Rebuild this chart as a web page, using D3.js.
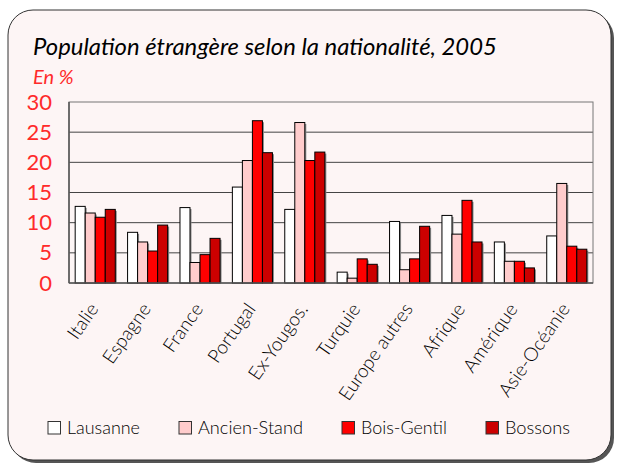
<!DOCTYPE html>
<html>
<head>
<meta charset="utf-8">
<script src="https://cdn.jsdelivr.net/npm/d3@7"></script>
<style>
  body { margin: 0; background: #fff; }
  text { font-family: Lato, "Open Sans", sans-serif; }
</style>
</head>
<body>
<div id="chart"></div>
<script>
const categories = ["Italie", "Espagne", "France", "Portugal", "Ex-Yougos.", "Turquie",
    "Europe autres", "Afrique", "Amérique", "Asie-Océanie"];
const seriesNames = ["Lausanne", "Ancien-Stand", "Bois-Gentil", "Bossons"];
const lausanne    = [12.7, 8.4, 12.5, 15.9, 12.2, 1.8, 10.2, 11.2, 6.8, 7.8];
const ancienStand = [11.6, 6.8, 3.4, 20.3, 26.6, 0.8, 2.2, 8.1, 3.6, 16.5];
const boisGentil  = [10.9, 5.3, 4.7, 26.9, 20.3, 4.0, 4.0, 13.7, 3.6, 6.1];
const bossons     = [12.2, 9.6, 7.4, 21.6, 21.7, 3.1, 9.4, 6.8, 2.5, 5.6];
const yTicks = [0, 5, 10, 15, 20, 25, 30];
const colors = ["#ffffff", "#ffcccc", "#ff0000", "#cc0000"];

const series = [lausanne, ancienStand, boisGentil, bossons];

const W = 617, H = 464;
const margin = { top: 102, right: 24, bottom: 181, left: 69 },
    width = W - margin.left - margin.right,
    height = H - margin.top - margin.bottom;

const svg = d3.select("#chart")
    .append("svg")
    .attr("width", W)
    .attr("height", H);

// card with shadow
svg.append("rect")
    .attr("x", 11).attr("y", 13)
    .attr("width", 603).attr("height", 450)
    .attr("rx", 25)
    .style("fill", "#555");
svg.append("rect")
    .attr("x", 8).attr("y", 10)
    .attr("width", 603).attr("height", 450)
    .attr("rx", 25)
    .style("fill", "#fdf5f5")
    .style("stroke", "#333")
    .style("stroke-width", 1);

// shrink/grow a text so it spans the width seen in the reference
function fitWidth(sel, size, target) {
    const w = sel.node().getComputedTextLength();
    sel.style("font-size", (size * target / w) + "px");
}

const title = svg.append("text")
    .attr("x", 33).attr("y", 55)
    .style("font-style", "italic")
    .style("font-size", "22px")
    .style("fill", "#000")
    .text("Population étrangère selon la nationalité, 2005");
fitWidth(title, 22, 464);

svg.append("text")
    .attr("x", 33).attr("y", 84)
    .style("font-style", "italic")
    .style("font-size", "20px")
    .style("fill", "#ff2a2a")
    .text("En %");

const g = svg.append("g")
    .attr("transform", `translate(${margin.left}, ${margin.top})`);

const x = d3.scaleBand()
    .domain(categories)
    .range([0, width])
    .paddingInner(0.235)
    .paddingOuter(0.118);

const xs = d3.scaleBand()
    .domain(seriesNames)
    .range([0, x.bandwidth()]);

const y = d3.scaleLinear()
    .domain([0, 30])
    .range([height, 0]);

// gridlines
g.append("g")
    .selectAll("line")
    .data(yTicks.filter(d => d > 0 && d < 30))
    .enter().append("line")
    .attr("x1", 0).attr("x2", width)
    .attr("y1", d => y(d)).attr("y2", d => y(d))
    .style("stroke", "#444")
    .style("stroke-width", 1);

// plot frame
g.append("rect")
    .attr("width", width).attr("height", height)
    .style("fill", "none")
    .style("stroke", "#777")
    .style("stroke-width", 1);

// bars
series.forEach((vals, si) => {
    const bars = g.append("g");
    bars.selectAll("rect.shadow")
        .data(vals)
        .enter().append("rect")
        .attr("class", "shadow")
        .attr("x", (d, i) => x(categories[i]) + xs(seriesNames[si]) + 1.5)
        .attr("y", d => y(d) + 1.5)
        .attr("width", xs.bandwidth())
        .attr("height", d => height - y(d) - 1.5)
        .style("fill", "#888");
    bars.selectAll("rect.bar")
        .data(vals)
        .enter().append("rect")
        .attr("class", "bar")
        .attr("x", (d, i) => x(categories[i]) + xs(seriesNames[si]))
        .attr("y", d => y(d))
        .attr("width", xs.bandwidth())
        .attr("height", d => height - y(d))
        .style("fill", colors[si])
        .style("stroke", "#000")
        .style("stroke-width", 1);
});

// left & bottom axis lines
g.append("line")
    .attr("x1", 0).attr("x2", 0).attr("y1", 0).attr("y2", height)
    .style("stroke", "#555").style("stroke-width", 1.5);
g.append("line")
    .attr("x1", 0).attr("x2", width).attr("y1", height).attr("y2", height)
    .style("stroke", "#555").style("stroke-width", 1.5);

// y axis labels
const yAxis = g.append("g")
    .call(d3.axisLeft(y).tickValues(yTicks).tickSize(0).tickPadding(17));
yAxis.select(".domain").remove();
yAxis.selectAll("text")
    .style("font-family", "Lato, sans-serif")
    .style("font-size", "22px")
    .style("fill", "#ff2a2a");

// x axis labels
const xAxis = g.append("g")
    .attr("transform", `translate(0, ${height})`)
    .call(d3.axisBottom(x).tickSize(0).tickPadding(0));
xAxis.select(".domain").remove();
xAxis.selectAll("text")
    .style("font-family", "Lato, sans-serif")
    .style("font-weight", 300)
    .style("font-size", "19px")
    .style("fill", "#000")
    .style("text-anchor", "end")
    .attr("dy", 0)
    .attr("transform", "translate(4, 26) rotate(-55)");

// legend
const legendX = [48, 179, 342, 486];
const legendW = [73, 105, 86, 65];
const legend = svg.append("g");
seriesNames.forEach((name, i) => {
    legend.append("rect")
        .attr("x", legendX[i]).attr("y", 421.5)
        .attr("width", 12.5).attr("height", 12.5)
        .style("fill", colors[i])
        .style("stroke", "#333");
    const t = legend.append("text")
        .attr("x", legendX[i] + 19).attr("y", 434)
        .style("font-weight", 300)
        .style("font-size", "19px")
        .style("fill", "#000")
        .text(name);
    fitWidth(t, 19, legendW[i]);
});
</script>
</body>
</html>
